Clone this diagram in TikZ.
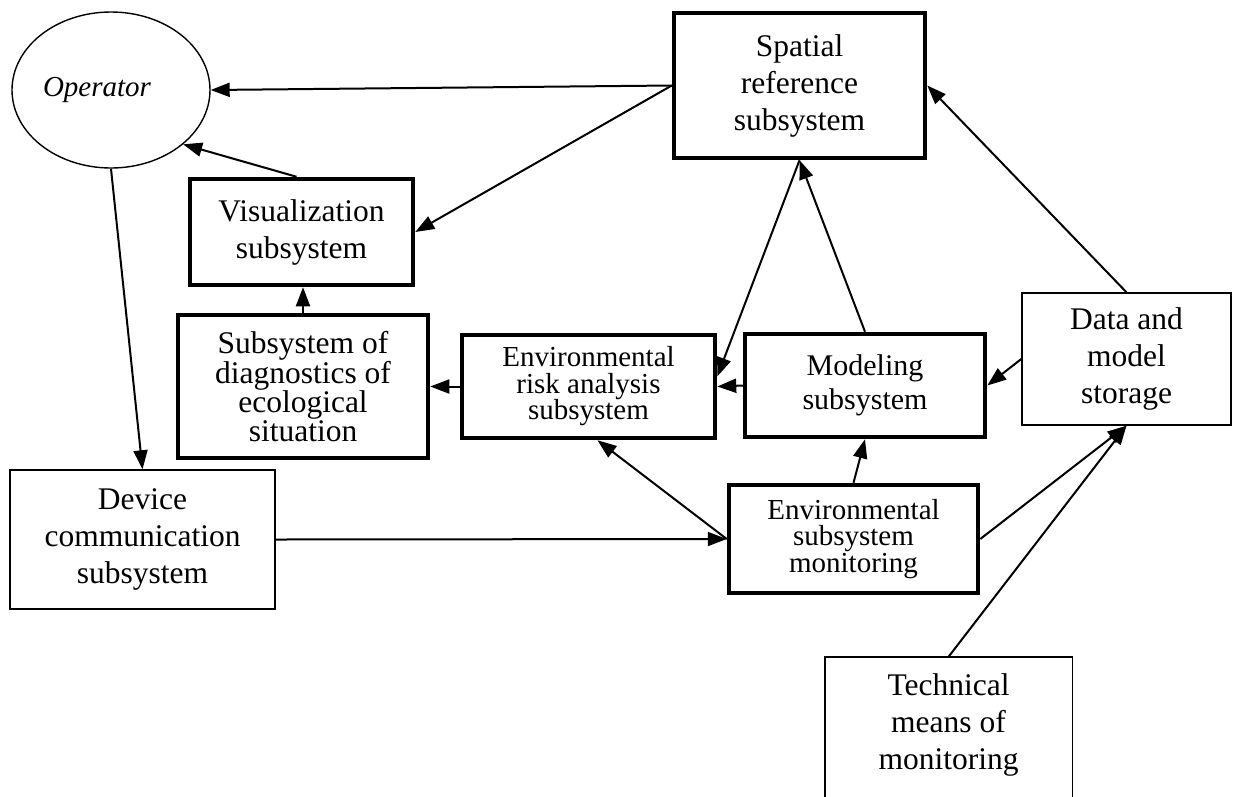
\documentclass[tikz,border=0pt]{standalone}
\usepackage{fontspec}
\setmainfont{Liberation Serif}
\usetikzlibrary{arrows.meta,calc,shapes.geometric}
\begin{document}
\begin{tikzpicture}[x=1pt,y=-1pt,
  thickbox/.style={draw,line width=4.5pt,align=center,inner sep=0pt},
  thinbox/.style={draw,line width=1.4pt,align=center,inner sep=0pt},
  conn/.style={line width=2pt,-{Triangle[length=19pt,width=14pt]}},
  big/.style={font=\fontsize{31.5}{37}\selectfont},
  midf/.style={font=\fontsize{30}{34}\selectfont},
  tight/.style={font=\fontsize{29}{26.5}\selectfont},
  tightb/.style={font=\fontsize{31.5}{26}\selectfont}]
\clip (0,0) rectangle (1233,796);
\fill[white] (0,0) rectangle (1233,796);
% nodes
\node[ellipse,draw,line width=1.4pt,minimum width=198pt,minimum height=156pt,inner sep=0pt,
      font=\itshape\fontsize{29}{34}\selectfont] (op) at (111,90) {\kern-28pt Operator};
\node[thickbox,big,minimum width=251pt,minimum height=145pt] (sp) at (799.5,85.5)
  {Spatial\\reference\\subsystem};
\node[thickbox,big,minimum width=223pt,minimum height=106pt] (vis) at (301.5,232)
  {Visualization\\subsystem};
\node[thickbox,tightb,minimum width=250pt,minimum height=143pt] (diag) at (303,386.5)
  {Subsystem of\\diagnostics of\\ecological\\situation};
\node[thickbox,tight,minimum width=253pt,minimum height=103pt] (risk) at (588.5,386.5)
  {Environmental\\risk analysis\\subsystem};
\node[thickbox,midf,minimum width=240pt,minimum height=103pt] (mod) at (865,385.5)
  {Modeling\\subsystem};
\node[thickbox,tight,minimum width=249pt,minimum height=108pt] (mon) at (853.5,539)
  {Environmental\\subsystem\\monitoring};
\node[thinbox,big,minimum width=265pt,minimum height=139pt] (dev) at (142.5,539.5)
  {Device\\communication\\subsystem};
\node[thinbox,big,minimum width=209pt,minimum height=132pt] (data) at (1126.5,359)
  {Data and\\model\\storage};
\node[big,align=center,inner sep=0pt,minimum width=247pt,minimum height=136pt] (tech) at (948.5,725)
  {Technical\\means of\\monitoring};
\draw[line width=1.4pt] ($(tech.south west)+(0,20)$) -- (tech.north west) -- (tech.north east) -- ($(tech.south east)+(0,20)$);
% connectors
\draw[conn] (sp.west) -- (op.east);
\draw[conn] (sp.west) -- (vis.east);
\draw[conn] ($(vis.north)+(-5,0)$) -- (op.-37);
\draw[conn] (op.south) -- (dev.north);
\draw[conn] (diag.north) -- (diag.north |- vis.south);
\draw[conn] (risk.west) -- (diag.east);
\draw[conn] (mod.west) -- (risk.east);
\draw[conn] (data.west) -- (mod.east);
\draw[conn] (mon.north) -- (mod.south);
\draw[conn] (mon.west) -- ($(risk.south)+(9,0)$);
\draw[conn] (dev.east) -- (mon.west);
\draw[conn] (mon.east) -- (data.south);
\draw[conn] (tech.north) -- (data.south);
\draw[conn] (mod.north) -- (sp.south);
\draw[conn] (sp.south) -- ($(risk.east)+(0,-10)$);
\draw[conn] (data.north) -- (sp.east);
\end{tikzpicture}
\end{document}
